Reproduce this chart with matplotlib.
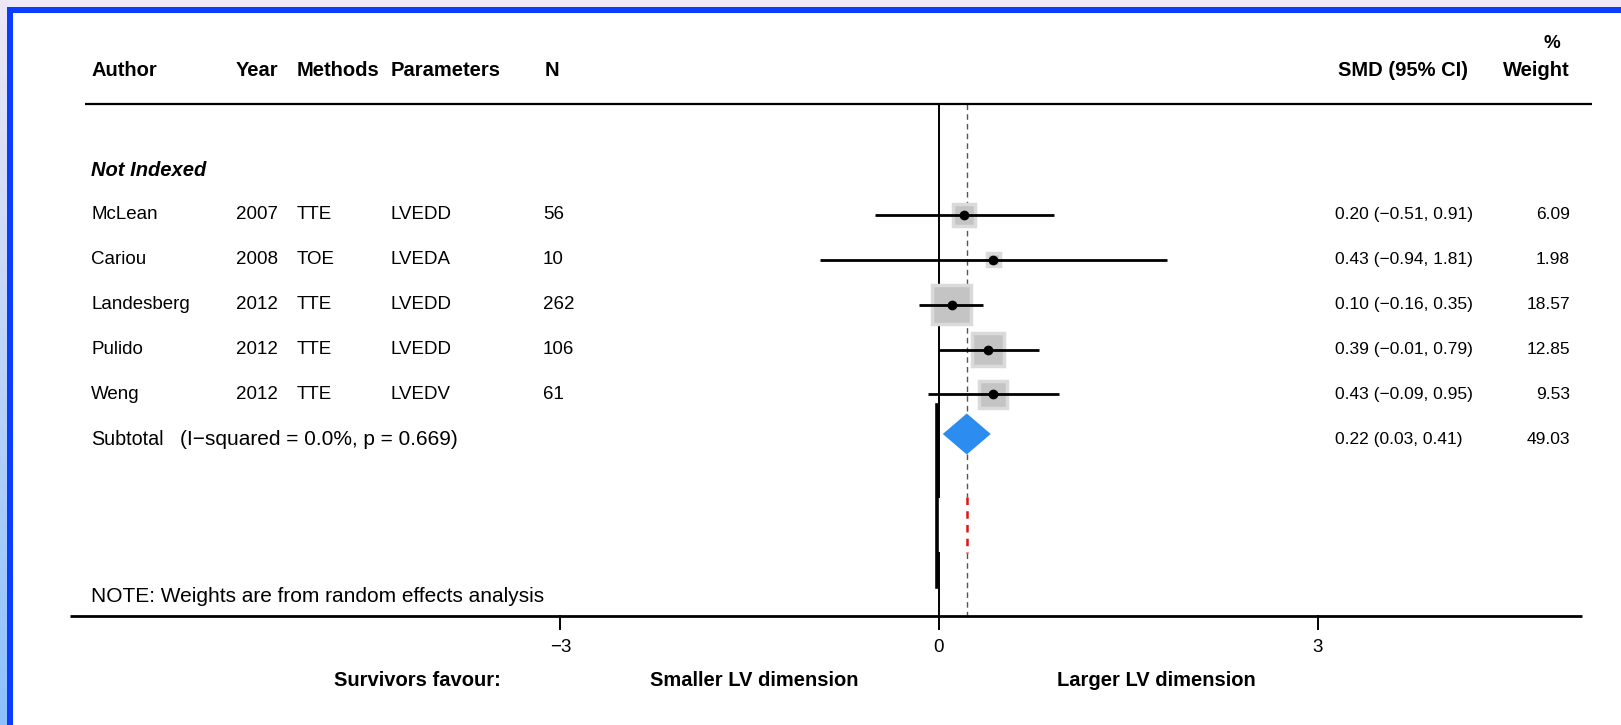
import matplotlib
matplotlib.use('Agg')
import matplotlib.pyplot as plt
import numpy as np
from matplotlib.patches import Rectangle, Polygon

# ---------------- data ----------------
authors = ["McLean", "Cariou", "Landesberg", "Pulido", "Weng"]
years = ["2007", "2008", "2012", "2012", "2012"]
methods = ["TTE", "TOE", "TTE", "TTE", "TTE"]
params = ["LVEDD", "LVEDA", "LVEDD", "LVEDD", "LVEDV"]
ns = ["56", "10", "262", "106", "61"]
smd = [0.20, 0.43, 0.10, 0.39, 0.43]
ci_lo = [-0.51, -0.94, -0.16, -0.01, -0.09]
ci_hi = [0.91, 1.81, 0.35, 0.79, 0.95]
weights = [6.09, 1.98, 18.57, 12.85, 9.53]
sub_smd, sub_lo, sub_hi, sub_w = 0.22, 0.03, 0.41, 49.03
group_label = "Not Indexed"
subtotal_word = "Subtotal"
subtotal_stats = "(I\u2212squared = 0.0%, p = 0.669)"
note_label = "NOTE: Weights are from random effects analysis"
headers = ["Author", "Year", "Methods", "Parameters", "N"]
xticks = [-3, 0, 3]
favour_left = "Smaller LV dimension"
favour_right = "Larger LV dimension"
favour_title = "Survivors favour:"

# ---------------- layout ----------------
W, H = 1621, 725
X0, PPU = 939.0, 126.2      # pixel of SMD=0, pixels per SMD unit
R0, PITCH = 170.0, 44.9     # pixel of row 0, row pitch


def ry(p):
    return (p - R0) / PITCH


def dx(p):
    return (p - X0) / PPU


plt.rcParams['font.family'] = ['Liberation Sans', 'DejaVu Sans']
FS = 13.5      # row text
FSB = 14.5     # bold / large text
FSC = 12.5     # CI column

fig = plt.figure(figsize=(W / 100, H / 100), dpi=100)
fig.patch.set_facecolor('white')
ax = fig.add_axes([0, 0, 1, 1])
ax.set_xlim(dx(0), dx(W))
ax.set_ylim(ry(H), ry(0))
ax.axis('off')

# decorative frame (top and left)
gax = fig.add_axes([0, 0, 8 / W, 1])
grad = np.linspace(0, 1, 256)[:, None]
c_top = np.array([0xed, 0xe8, 0xf5]) / 255
c_bot = np.array([0x8c, 0xc1, 0xfd]) / 255
img = c_top[None, None, :] * (1 - grad[:, :, None]) + c_bot[None, None, :] * grad[:, :, None]
gax.imshow(img, aspect='auto', extent=[0, 1, 0, 1])
gax.axis('off')
fig.patches.append(Rectangle((8 / W, 1 - 7 / H), 1, 7 / H, transform=fig.transFigure,
                             facecolor='#ede9f6', edgecolor='none', zorder=5))
fig.patches.append(Rectangle((8 / W, 1 - 13 / H), 1, 6 / H, transform=fig.transFigure,
                             facecolor='#0a3dff', edgecolor='none', zorder=6))
fig.patches.append(Rectangle((7 / W, 0), 6 / W, 1 - 7 / H, transform=fig.transFigure,
                             facecolor='#0a3dff', edgecolor='none', zorder=6))

# headers
col_x = [91, 236, 297, 391, 545]
for h, x in zip(headers, col_x):
    ax.text(dx(x), ry(71), h, fontsize=FSB, fontweight='bold', va='center', ha='left')
ax.text(dx(1338), ry(71), "SMD (95% CI)", fontsize=FSB, fontweight='bold', va='center', ha='left')
ax.text(dx(1552), ry(43), "%", fontsize=FSB - 1, fontweight='bold', va='center', ha='center')
ax.text(dx(1570), ry(71), "Weight", fontsize=FSB, fontweight='bold', va='center', ha='right')
ax.plot([dx(85), dx(1592)], [ry(104), ry(104)], color='black', lw=1.6, solid_capstyle='butt')

# group label
ax.text(dx(91), 0, group_label, fontsize=FSB, fontweight='bold', fontstyle='italic', va='center')

# vertical reference lines
ax.plot([0, 0], [ry(104), ry(497)], color='black', lw=1.4, zorder=2)
ax.plot([0, 0], [ry(553), ry(616)], color='black', lw=1.4, zorder=2)
ax.plot([dx(937), dx(937)], [ry(405), ry(587)], color='black', lw=2.6, zorder=2)
ax.plot([sub_smd, sub_smd], [ry(104), ry(497)], color='#555555', lw=1.0,
        dashes=(4, 3), zorder=1)
ax.plot([sub_smd, sub_smd], [ry(553), ry(616)], color='#555555', lw=1.0,
        dashes=(4, 3), zorder=1)
ax.plot([sub_smd, sub_smd], [ry(497), ry(553)], color='#e01515', lw=1.8,
        dashes=(3, 2.5), zorder=2)

# studies
rows = np.arange(1, len(authors) + 1)
for i, r in enumerate(rows):
    ax.text(dx(91), r, authors[i], fontsize=FS, va='center')
    ax.text(dx(236), r, years[i], fontsize=FS, va='center')
    ax.text(dx(297), r, methods[i], fontsize=FS, va='center')
    ax.text(dx(391), r, params[i], fontsize=FS, va='center')
    ax.text(dx(543), r, ns[i], fontsize=FS, va='center')
    ci = f"{smd[i]:.2f} ({ci_lo[i]:.2f}, {ci_hi[i]:.2f})".replace('-', '\u2212')
    ax.text(dx(1335), r, ci, fontsize=FSC, va='center')
    ax.text(dx(1570), r, f"{weights[i]:.2f}", fontsize=FSC, va='center', ha='right')
    side = 39.0 * np.sqrt(weights[i] / 18.57)
    wdat, hdat = side / PPU, side / PITCH
    ax.add_patch(Rectangle((smd[i] - wdat / 2, r - hdat / 2), wdat, hdat,
                           facecolor='#c4c4c4', edgecolor='#dadada', lw=2.5, zorder=3))
ax.hlines(rows, ci_lo, ci_hi, color='black', lw=2.0, zorder=4)
ax.plot(smd, rows, 'o', color='black', ms=6, zorder=5)

# subtotal
rs = len(authors) + 1
ax.text(dx(91), rs, subtotal_word, fontsize=14.2, va='center')
ax.text(dx(180), rs, subtotal_stats, fontsize=15.0, va='center')
ax.text(dx(1335), rs, f"{sub_smd:.2f} ({sub_lo:.2f}, {sub_hi:.2f})", fontsize=FSC, va='center')
ax.text(dx(1570), rs, f"{sub_w:.2f}", fontsize=FSC, va='center', ha='right')
hh = 20.5 / PITCH
rd = ry(434)
ax.add_patch(Polygon([(sub_lo, rd), (sub_smd, rd - hh), (sub_hi, rd), (sub_smd, rd + hh)],
                     closed=True, facecolor='#2d8cf0', edgecolor='none', zorder=6))

# note
ax.text(dx(91), ry(596), note_label, fontsize=15.0, va='center')

# x axis
ax.plot([dx(70), dx(1582)], [ry(616), ry(616)], color='black', lw=2.0, solid_capstyle='butt')
for t in xticks:
    ax.plot([t, t], [ry(616), ry(629)], color='black', lw=1.4)
    ax.text(t, ry(648), f"{t}".replace('-', '\u2212'), fontsize=FS, ha='center', va='center')

ax.text(dx(334), ry(680), favour_title, fontsize=FSB, fontweight='bold', ha='left', va='center')
ax.text(dx(754), ry(680), favour_left, fontsize=FSB, fontweight='bold', ha='center', va='center')
ax.text(dx(1156), ry(680), favour_right, fontsize=FSB, fontweight='bold', ha='center', va='center')

fig.savefig('out.png', dpi=100, facecolor='white')
